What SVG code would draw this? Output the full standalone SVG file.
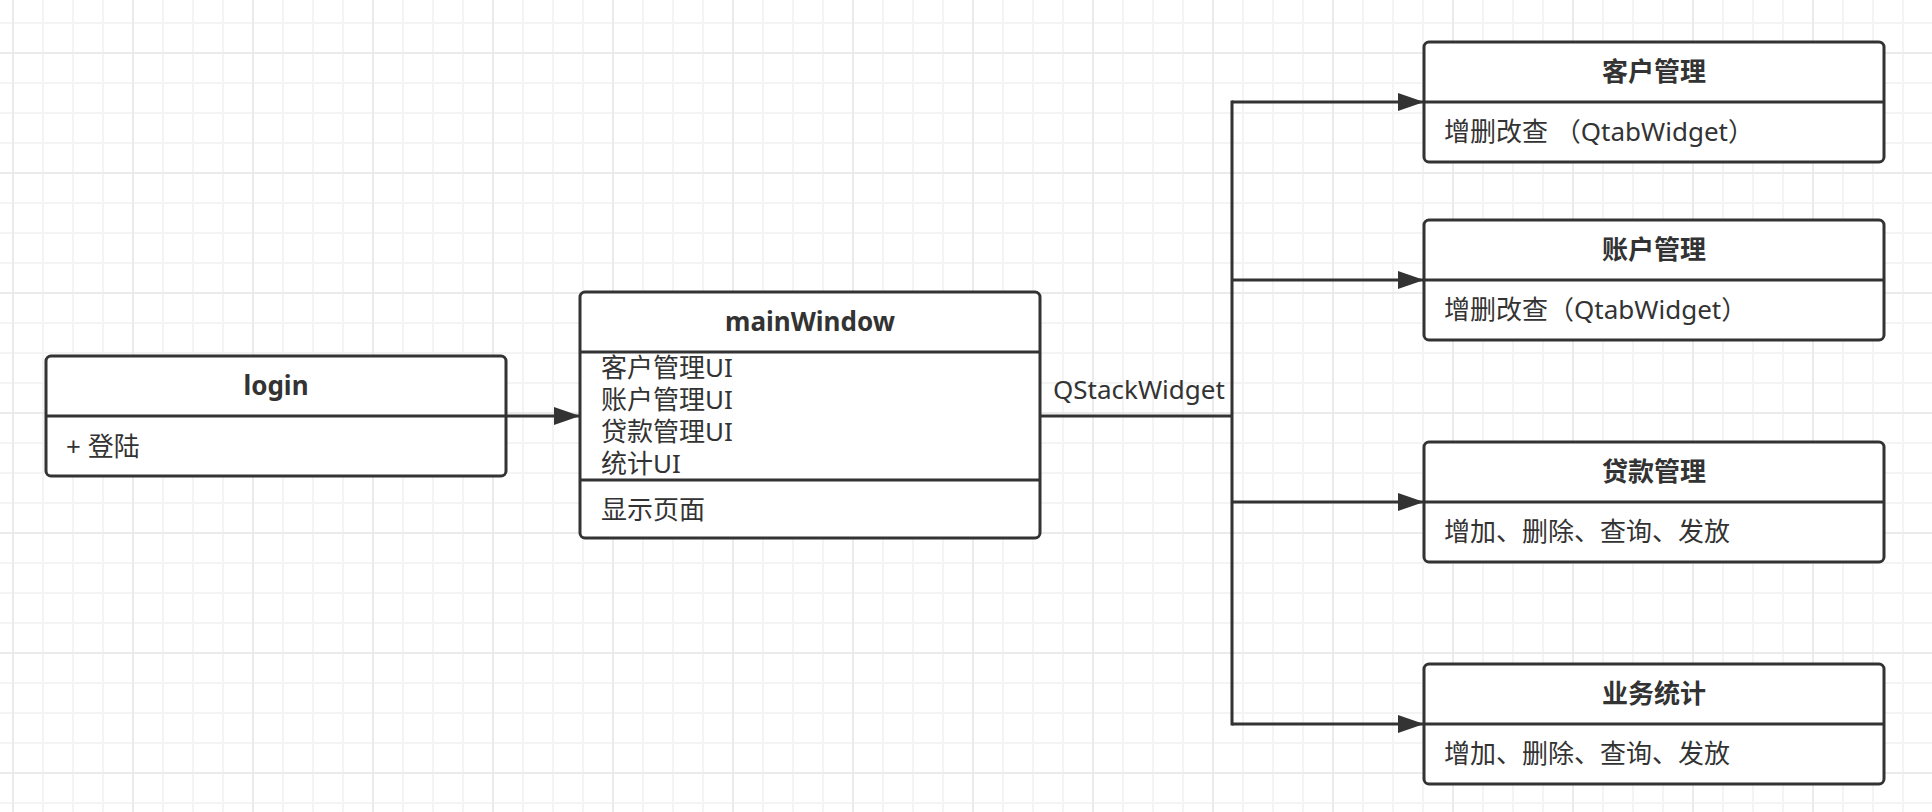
<svg xmlns="http://www.w3.org/2000/svg" width="1932" height="812" viewBox="0 0 1932 812">
<style>
.box{fill:#fff;stroke:#333;stroke-width:3}
.div{stroke:#333;stroke-width:3}
.t{font-family:"Noto Sans","Noto Sans CJK SC",sans-serif;font-size:26px;fill:#333}
.title{font-weight:700;text-anchor:middle}
.conn{stroke:#333;stroke-width:3;fill:none}
</style>
<defs>
<pattern id="grid" patternUnits="userSpaceOnUse" x="12" y="52" width="120" height="120">
<rect x="0" y="0" width="120" height="120" fill="#fff"/>
<g fill="#f4f4f4">
<rect x="30" y="0" width="2" height="120"/><rect x="60" y="0" width="2" height="120"/><rect x="90" y="0" width="2" height="120"/>
<rect x="0" y="30" width="120" height="2"/><rect x="0" y="60" width="120" height="2"/><rect x="0" y="90" width="120" height="2"/>
</g>
<g fill="#ebebeb">
<rect x="0" y="0" width="2" height="120"/><rect x="0" y="0" width="120" height="2"/>
</g>
</pattern>
<marker id="arr" markerUnits="userSpaceOnUse" markerWidth="26" markerHeight="18" refX="26" refY="9" orient="auto">
<path d="M0,0 L26,9 L0,18 Z" fill="#333"/>
</marker>
</defs>
<rect width="1932" height="812" fill="url(#grid)"/>

<g id="connectors">
<line class="conn" x1="506" y1="416" x2="580" y2="416" marker-end="url(#arr)"/>
<line class="conn" x1="1040" y1="416" x2="1232" y2="416"/>
<line class="conn" x1="1232" y1="102" x2="1232" y2="724" stroke-linecap="square"/>
<line class="conn" x1="1232" y1="102" x2="1424" y2="102" marker-end="url(#arr)"/>
<line class="conn" x1="1232" y1="280" x2="1424" y2="280" marker-end="url(#arr)"/>
<line class="conn" x1="1232" y1="502" x2="1424" y2="502" marker-end="url(#arr)"/>
<line class="conn" x1="1232" y1="724" x2="1424" y2="724" marker-end="url(#arr)"/>
<text class="t" x="1053" y="399">QStackWidget</text>
</g>

<g id="login">
<rect class="box" x="46" y="356" width="460" height="120" rx="5"/>
<line class="div" x1="46" y1="416" x2="506" y2="416"/>
<text class="t title" x="276" y="395">login</text>
<text class="t" x="66" y="456">+ 登陆</text>
</g>

<g id="mainWindow">
<rect class="box" x="580" y="292" width="460" height="246" rx="5"/>
<line class="div" x1="580" y1="352" x2="1040" y2="352"/>
<line class="div" x1="580" y1="480" x2="1040" y2="480"/>
<text class="t title" x="810" y="331">mainWindow</text>
<text class="t" x="601" y="377">客户管理UI</text>
<text class="t" x="601" y="409">账户管理UI</text>
<text class="t" x="601" y="441">贷款管理UI</text>
<text class="t" x="601" y="473">统计UI</text>
<text class="t" x="601" y="519">显示页面</text>
</g>

<g id="kehu">
<rect class="box" x="1424" y="42" width="460" height="120" rx="5"/>
<line class="div" x1="1424" y1="102" x2="1884" y2="102"/>
<text class="t title" x="1654" y="81">客户管理</text>
<text class="t" x="1444" y="141">增删改查 （QtabWidget）</text>
</g>

<g id="zhanghu">
<rect class="box" x="1424" y="220" width="460" height="120" rx="5"/>
<line class="div" x1="1424" y1="280" x2="1884" y2="280"/>
<text class="t title" x="1654" y="259">账户管理</text>
<text class="t" x="1444" y="319">增删改查（QtabWidget）</text>
</g>

<g id="daikuan">
<rect class="box" x="1424" y="442" width="460" height="120" rx="5"/>
<line class="div" x1="1424" y1="502" x2="1884" y2="502"/>
<text class="t title" x="1654" y="481">贷款管理</text>
<text class="t" x="1444" y="541">增加、删除、查询、发放</text>
</g>

<g id="tongji">
<rect class="box" x="1424" y="664" width="460" height="120" rx="5"/>
<line class="div" x1="1424" y1="724" x2="1884" y2="724"/>
<text class="t title" x="1654" y="703">业务统计</text>
<text class="t" x="1444" y="763">增加、删除、查询、发放</text>
</g>
</svg>
